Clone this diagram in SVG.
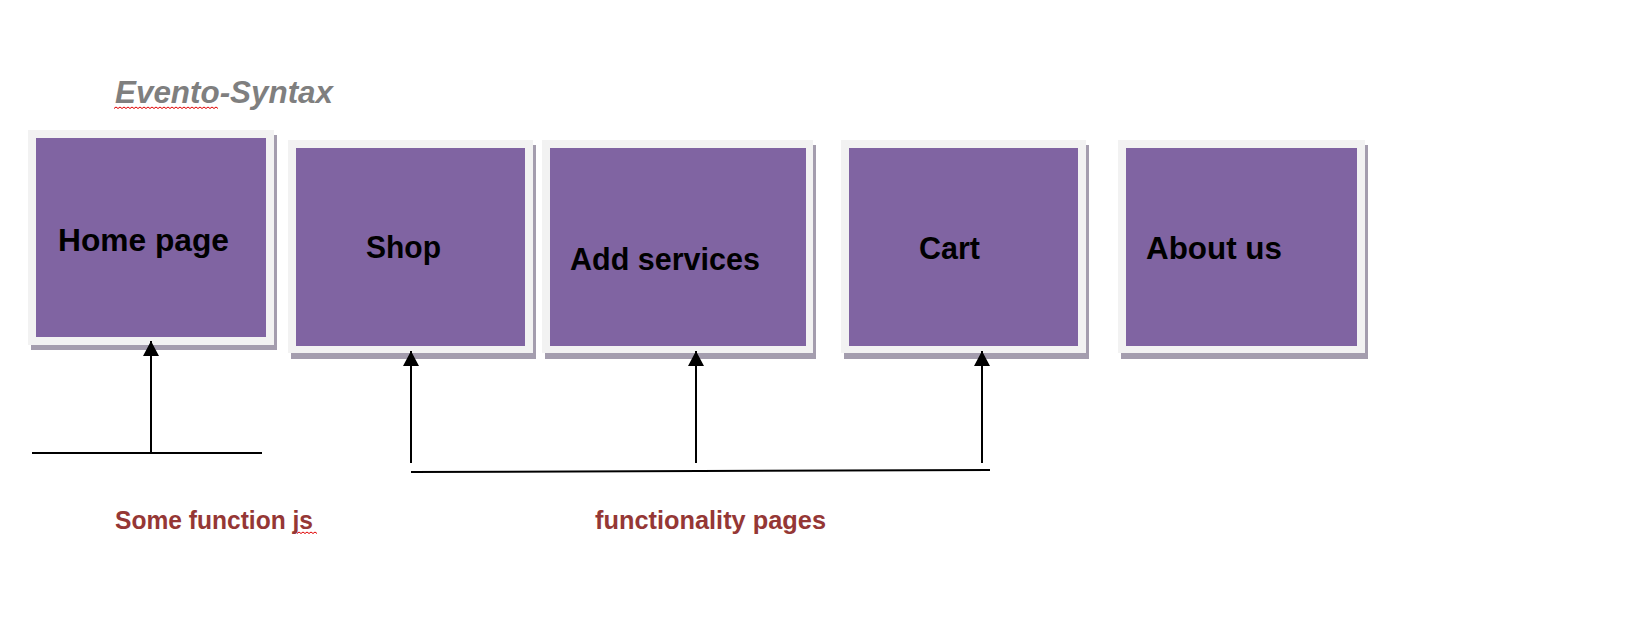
<svg xmlns="http://www.w3.org/2000/svg" width="1628" height="630" viewBox="0 0 1628 630">
  <style>
    .shadow { fill: #a49dae; }
    .frame { fill: #f2f2f2; }
    .box { fill: #8064a2; }
    .lbl { font-family: "Liberation Sans", Arial, sans-serif; font-weight: bold; font-size: 31px; fill: #000; }
    .title { font-family: "Liberation Sans", Arial, sans-serif; font-weight: bold; font-style: italic; font-size: 31px; fill: #7f7f7f; }
    .note { font-family: "Liberation Sans", Arial, sans-serif; font-weight: bold; font-size: 25px; fill: #953735; }
    .conn { stroke: #000; stroke-width: 2; fill: none; }
    .squig { stroke: #e00000; stroke-width: 1; fill: none; }
  </style>
  <defs>
    <marker id="arrow" markerUnits="userSpaceOnUse" markerWidth="16" markerHeight="16" refX="15" refY="8" orient="auto">
      <path d="M0,0 L15,8 L0,16 z" fill="#000"/>
    </marker>
  </defs>
  <rect width="1628" height="630" fill="#fff"/>

  <g id="title">
    <text class="title" x="115" y="103" textLength="218" lengthAdjust="spacingAndGlyphs">Evento-Syntax</text>
    <path class="squig" d="M114,108.5 l2,-1.5 l2,1.5 l2,-1.5 l2,1.5 l2,-1.5 l2,1.5 l2,-1.5 l2,1.5 l2,-1.5 l2,1.5 l2,-1.5 l2,1.5 l2,-1.5 l2,1.5 l2,-1.5 l2,1.5 l2,-1.5 l2,1.5 l2,-1.5 l2,1.5 l2,-1.5 l2,1.5 l2,-1.5 l2,1.5 l2,-1.5 l2,1.5 l2,-1.5 l2,1.5 l2,-1.5 l2,1.5 l2,-1.5 l2,1.5 l2,-1.5 l2,1.5 l2,-1.5 l2,1.5 l2,-1.5 l2,1.5 l2,-1.5 l2,1.5 l2,-1.5 l2,1.5 l2,-1.5 l2,1.5 l2,-1.5 l2,1.5 l2,-1.5 l2,1.5 l2,-1.5 l2,1.5 l2,-1.5 l2,1.5"/>
  </g>

  <g id="home-page">
    <rect class="shadow" x="31" y="135" width="246" height="215"/>
    <rect class="frame" x="28" y="130" width="246" height="215"/>
    <rect class="box" x="36" y="138" width="230" height="199"/>
    <text class="lbl" x="58" y="251" textLength="171" lengthAdjust="spacingAndGlyphs">Home page</text>
  </g>

  <g id="shop">
    <rect class="shadow" x="291" y="145" width="245" height="214"/>
    <rect class="frame" x="288" y="140" width="245" height="213"/>
    <rect class="box" x="296" y="148" width="229" height="198"/>
    <text class="lbl" x="366" y="258" textLength="75" lengthAdjust="spacingAndGlyphs">Shop</text>
  </g>

  <g id="add-services">
    <rect class="shadow" x="545" y="145" width="271" height="214"/>
    <rect class="frame" x="542" y="140" width="271" height="213"/>
    <rect class="box" x="550" y="148" width="256" height="198"/>
    <text class="lbl" x="570" y="270" textLength="190" lengthAdjust="spacingAndGlyphs">Add services</text>
  </g>

  <g id="cart">
    <rect class="shadow" x="844" y="145" width="245" height="214"/>
    <rect class="frame" x="841" y="140" width="245" height="213"/>
    <rect class="box" x="849" y="148" width="229" height="198"/>
    <text class="lbl" x="919" y="259" textLength="61" lengthAdjust="spacingAndGlyphs">Cart</text>
  </g>

  <g id="about-us">
    <rect class="shadow" x="1121" y="145" width="247" height="214"/>
    <rect class="frame" x="1118" y="140" width="247" height="213"/>
    <rect class="box" x="1126" y="148" width="231" height="198"/>
    <text class="lbl" x="1146" y="259" textLength="136" lengthAdjust="spacingAndGlyphs">About us</text>
  </g>

  <g id="connectors">
    <line class="conn" x1="32" y1="453" x2="262" y2="453"/>
    <line class="conn" x1="151" y1="453" x2="151" y2="341" marker-end="url(#arrow)"/>
    <line class="conn" x1="411" y1="463" x2="411" y2="351" marker-end="url(#arrow)"/>
    <line class="conn" x1="696" y1="463" x2="696" y2="351" marker-end="url(#arrow)"/>
    <line class="conn" x1="982" y1="463" x2="982" y2="351" marker-end="url(#arrow)"/>
    <line class="conn" x1="411" y1="472" x2="990" y2="470"/>
  </g>

  <g id="label-some-function">
    <text class="note" x="115" y="529" textLength="198" lengthAdjust="spacingAndGlyphs">Some function js</text>
    <path class="squig" d="M297,533.5 l2,-1.5 l2,1.5 l2,-1.5 l2,1.5 l2,-1.5 l2,1.5 l2,-1.5 l2,1.5 l2,-1.5 l2,1.5"/>
  </g>

  <g id="label-functionality">
    <text class="note" x="595" y="529" textLength="231" lengthAdjust="spacingAndGlyphs">functionality pages</text>
  </g>
</svg>
